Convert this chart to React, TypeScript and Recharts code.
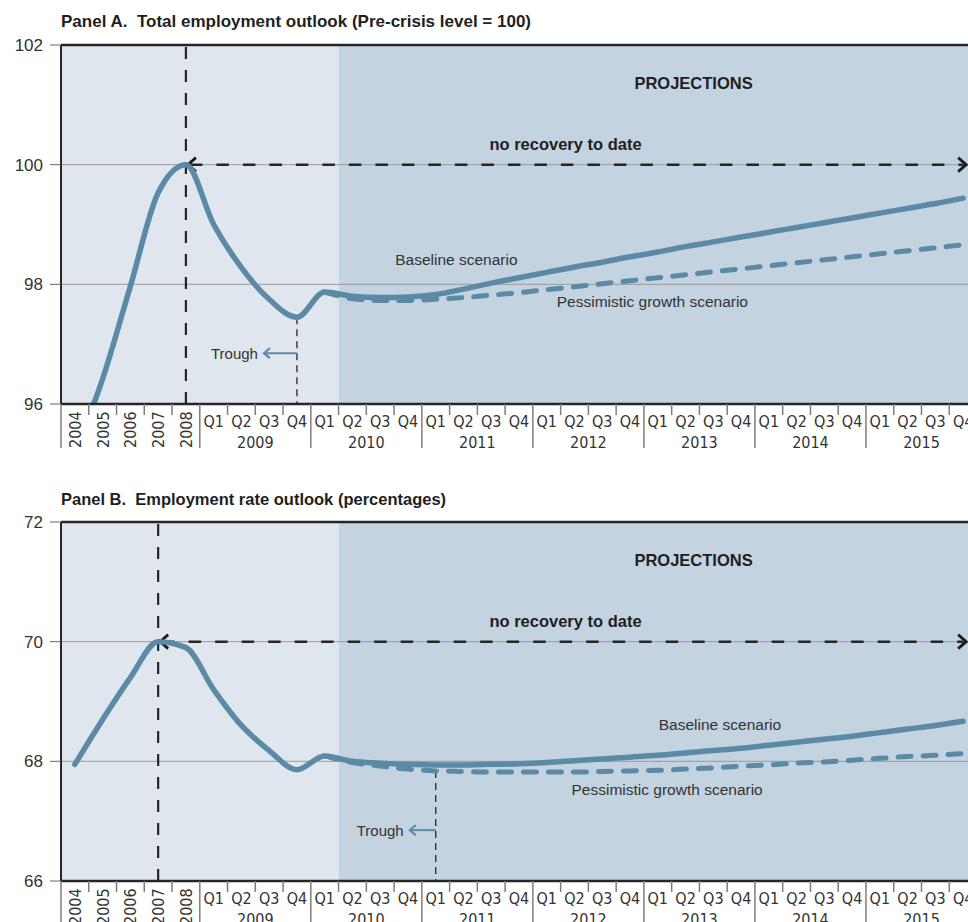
import React from "react";
import {
  LineChart,
  Line,
  XAxis,
  YAxis,
  ReferenceArea,
  ReferenceLine,
  ReferenceDot,
} from "recharts";

// ---- data ----
const annualYears = ["2004", "2005", "2006", "2007", "2008"];
const quarterYears = ["2009", "2010", "2011", "2012", "2013", "2014", "2015"];
const quarters = ["Q1", "Q2", "Q3", "Q4"];
const categories = [
  ...annualYears,
  ...quarterYears.flatMap((y) => quarters.map((q) => `${q} ${y}`)),
];

// Panel A: total employment, pre-crisis level = 100
const totalBaseline = [
  95.2, 96.42, 97.97, 99.53, 100.0,
  99.0, 98.28, 97.75, 97.45,
  97.87, 97.8, 97.78, 97.79,
  97.83, 97.92, 98.02, 98.11,
  98.2, 98.29, 98.37, 98.46,
  98.54, 98.63, 98.71, 98.79,
  98.87, 98.95, 99.03, 99.11,
  99.19, 99.27, 99.35, 99.44,
];
const totalPessimistic = [
  null, null, null, null, null,
  null, null, null, null,
  97.87, 97.76, 97.73, 97.73,
  97.75, 97.78, 97.82, 97.86,
  97.91, 97.96, 98.01, 98.06,
  98.11, 98.16, 98.21, 98.26,
  98.31, 98.36, 98.41, 98.46,
  98.51, 98.56, 98.61, 98.66,
];
const totalTicks = [96, 98, 100, 102];

// Panel B: employment rate, percentages
const rateBaseline = [
  67.95, 68.7, 69.4, 70.0, 69.9,
  69.2, 68.6, 68.18, 67.86,
  68.09, 68.0, 67.97, 67.95,
  67.94, 67.94, 67.95, 67.96,
  67.98, 68.01, 68.04, 68.07,
  68.1, 68.14, 68.18, 68.22,
  68.27, 68.32, 68.37, 68.42,
  68.48, 68.54, 68.6, 68.67,
];
const ratePessimistic = [
  null, null, null, null, null,
  null, null, null, null,
  68.09, 67.98, 67.92, 67.87,
  67.84, 67.83, 67.82, 67.82,
  67.82, 67.82, 67.83, 67.84,
  67.85, 67.87, 67.89, 67.92,
  67.94, 67.97, 67.99, 68.02,
  68.05, 68.08, 68.1, 68.13,
];
const rateTicks = [66, 68, 70, 72];

// ---- styling ----
const FONT = "'Liberation Sans', Arial, sans-serif";
const NARROW = "'Liberation Sans Narrow', 'DejaVu Sans Condensed', 'Liberation Sans', sans-serif";
const INK = "#262626";
const TEXT = "#333333";
const LINE_COLOR = "#5b8aa6";
const BG_PAST = "#dfe6ee";
const BG_PROJ = "#c3d3e0";

const CHART_W = 977;
const CHART_H = 454;
const MARGIN = { top: 45, right: 0, bottom: 0, left: 8 };
const Y_AXIS_W = 53;
const PLOT_W = CHART_W - MARGIN.left - MARGIN.right - Y_AXIS_W;
const BAND = PLOT_W / categories.length;

function PeriodTick(props: any) {
  const { x, y, payload } = props;
  const label: string = payload.value;
  const isQuarter = label.startsWith("Q");
  const [q, yr] = label.split(" ");
  const left = x - BAND / 2;
  const yearStart = isQuarter ? q === "Q1" : label === annualYears[0];
  return (
    <g>
      <line
        x1={left}
        x2={left}
        y1={y}
        y2={y + (yearStart ? 44 : 11)}
        stroke="#7d7d7d"
        strokeWidth={1.5}
      />
      {isQuarter ? (
        <>
          <text x={x} y={y + 23} textAnchor="middle" fontFamily={NARROW} fontSize={16} fill={TEXT}>
            {q}
          </text>
          {q === "Q2" && (
            <text x={x + BAND / 2} y={y + 44} textAnchor="middle" fontFamily={NARROW} fontSize={16} fill={TEXT}>
              {yr}
            </text>
          )}
        </>
      ) : (
        <text
          transform={`translate(${x + 6},${y + 44}) rotate(-90)`}
          textAnchor="start"
          fontFamily={NARROW}
          fontSize={16}
          fill={TEXT}
        >
          {label}
        </text>
      )}
    </g>
  );
}

function textShape(
  text: string,
  opts: { dx?: number; anchor?: "start" | "middle" | "end"; bold?: boolean; size?: number }
) {
  return (p: any) => (
    <text
      x={p.cx + (opts.dx ?? 0)}
      y={p.cy}
      textAnchor={opts.anchor ?? "start"}
      dominantBaseline="central"
      fontFamily={FONT}
      fontSize={opts.size ?? 15.5}
      fontWeight={opts.bold ? 700 : 400}
      fill={opts.bold ? "#1f1f1f" : TEXT}
    >
      {text}
    </text>
  );
}

function troughShape(len: number) {
  return (p: any) => {
    const { cx, cy } = p;
    return (
      <g>
        <line x1={cx - len} y1={cy} x2={cx} y2={cy} stroke={LINE_COLOR} strokeWidth={2} />
        <polyline
          points={`${cx - len + 6},${cy - 5} ${cx - len},${cy} ${cx - len + 6},${cy + 5}`}
          fill="none"
          stroke={LINE_COLOR}
          strokeWidth={2}
        />
        <text
          x={cx - len - 6}
          y={cy}
          textAnchor="end"
          dominantBaseline="central"
          fontFamily={FONT}
          fontSize={15}
          fill={TEXT}
        >
          Trough
        </text>
      </g>
    );
  };
}

function RecoveryArrow(p: any) {
  const { x1, y1, x2 } = p;
  return (
    <g>
      <line x1={x1 + 4} y1={y1} x2={x2} y2={y1} stroke={INK} strokeWidth={2.5} strokeDasharray="12.5 14" />
      <polyline
        points={`${x1 + 10},${y1 - 7} ${x1 + 2},${y1} ${x1 + 10},${y1 + 7}`}
        fill="none"
        stroke="#1a1a1a"
        strokeWidth={2.8}
      />
      <polyline
        points={`${x2 - 5},${y1 - 7} ${x2 + 3},${y1} ${x2 - 5},${y1 + 7}`}
        fill="none"
        stroke="#1a1a1a"
        strokeWidth={2.8}
      />
    </g>
  );
}

type PanelProps = {
  baseline: number[];
  pessimistic: (number | null)[];
  ticks: number[];
  peak: string;
  trough: string;
  troughValue: number;
  labels: {
    projections: number;
    recovery: number;
    baseline: [string, number, number];
    pessimistic: [string, number, number];
    troughArrow: number;
    troughLen: number;
  };
};

function Panel({ baseline, pessimistic, ticks, peak, trough, troughValue, labels }: PanelProps) {
  const data = categories.map((period, i) => ({
    period,
    baseline: baseline[i],
    pessimistic: pessimistic[i],
  }));
  const lo = ticks[0];
  const hi = ticks[ticks.length - 1];
  const peakValue = baseline[categories.indexOf(peak)];
  return (
    <LineChart width={CHART_W} height={CHART_H} data={data} margin={MARGIN}>
      <XAxis
        dataKey="period"
        scale="band"
        interval={0}
        tick={(p: any) => <PeriodTick {...p} />}
        tickLine={false}
        tickSize={0}
        tickMargin={0}
        axisLine={{ stroke: INK, strokeWidth: 2.5 }}
        height={50}
      />
      <YAxis
        domain={[lo, hi]}
        ticks={ticks}
        allowDataOverflow
        width={Y_AXIS_W}
        tickSize={11}
        tickMargin={7}
        axisLine={{ stroke: INK, strokeWidth: 2 }}
        tickLine={{ stroke: "#666" }}
        tick={{ fill: TEXT, fontSize: 17, fontFamily: FONT }}
      />
      <ReferenceArea x1={categories[0]} x2="Q1 2010" fill={BG_PAST} fillOpacity={1} />
      <ReferenceArea x1="Q2 2010" x2={categories[categories.length - 1]} fill={BG_PROJ} fillOpacity={1} />
      {ticks.slice(1, -1).map((t) => (
        <ReferenceLine key={t} y={t} stroke="#9a9a9a" strokeWidth={1} />
      ))}
      <ReferenceLine y={hi} stroke={INK} strokeWidth={2.5} />
      <ReferenceLine x={peak} stroke={INK} strokeWidth={2.2} strokeDasharray="12 11" />
      <ReferenceLine
        segment={[
          { x: trough, y: troughValue },
          { x: trough, y: lo },
        ]}
        stroke={INK}
        strokeWidth={1.3}
        strokeDasharray="7 5"
      />
      <ReferenceLine
        segment={[
          { x: peak, y: peakValue },
          { x: categories[categories.length - 1], y: peakValue },
        ]}
        shape={(p: any) => <RecoveryArrow {...p} />}
      />
      <Line
        dataKey="pessimistic"
        type="monotone"
        stroke={LINE_COLOR}
        strokeWidth={5}
        strokeDasharray="13 12"
        strokeLinecap="round"
        dot={false}
        activeDot={false}
        isAnimationActive={false}
      />
      <Line
        dataKey="baseline"
        type="monotone"
        stroke={LINE_COLOR}
        strokeWidth={5.5}
        strokeLinecap="round"
        dot={false}
        activeDot={false}
        isAnimationActive={false}
      />
      <ReferenceDot
        x="Q2 2013"
        y={labels.projections}
        r={1}
        shape={textShape("PROJECTIONS", { dx: 8, anchor: "middle", bold: true, size: 16.5 })}
      />
      <ReferenceDot
        x="Q2 2012"
        y={labels.recovery}
        r={1}
        shape={textShape("no recovery to date", { dx: -9, anchor: "middle", bold: true, size: 16.5 })}
      />
      <ReferenceDot
        x={labels.baseline[0]}
        y={labels.baseline[1]}
        r={1}
        shape={textShape("Baseline scenario", { dx: labels.baseline[2] })}
      />
      <ReferenceDot
        x={labels.pessimistic[0]}
        y={labels.pessimistic[1]}
        r={1}
        shape={textShape("Pessimistic growth scenario", { dx: labels.pessimistic[2] })}
      />
      <ReferenceDot x={trough} y={labels.troughArrow} r={1} shape={troughShape(labels.troughLen)} />
    </LineChart>
  );
}

const titleStyle: React.CSSProperties = {
  position: "absolute",
  left: 61,
  fontFamily: FONT,
  fontWeight: 700,
  fontSize: 16.5,
  lineHeight: "20px",
  color: "#1f1f1f",
  whiteSpace: "pre",
};

export default function App() {
  return (
    <div
      style={{
        position: "absolute",
        left: 0,
        top: 0,
        width: 968,
        height: 922,
        overflow: "hidden",
        background: "#fff",
      }}
    >
      <div style={{ ...titleStyle, top: 12, fontSize: 17 }}>
        {"Panel A.  Total employment outlook (Pre-crisis level = 100)"}
      </div>
      <div style={{ position: "absolute", left: 0, top: 0 }}>
        <Panel
          baseline={totalBaseline}
          pessimistic={totalPessimistic}
          ticks={totalTicks}
          peak="2008"
          trough="Q4 2009"
          troughValue={totalBaseline[categories.indexOf("Q4 2009")]}
          labels={{
            projections: 101.37,
            recovery: 100.35,
            baseline: ["Q3 2010", 98.42, 15],
            pessimistic: ["Q1 2012", 97.72, 10],
            troughArrow: 96.85,
            troughLen: 33,
          }}
        />
      </div>
      <div style={{ ...titleStyle, top: 489 }}>
        {"Panel B.  Employment rate outlook (percentages)"}
      </div>
      <div style={{ position: "absolute", left: 0, top: 477 }}>
        <Panel
          baseline={rateBaseline}
          pessimistic={ratePessimistic}
          ticks={rateTicks}
          peak="2007"
          trough="Q1 2011"
          troughValue={ratePessimistic[categories.indexOf("Q1 2011")] as number}
          labels={{
            projections: 71.37,
            recovery: 70.35,
            baseline: ["Q1 2013", 68.62, 1],
            pessimistic: ["Q2 2012", 67.53, -3],
            troughArrow: 66.85,
            troughLen: 26,
          }}
        />
      </div>
    </div>
  );
}
